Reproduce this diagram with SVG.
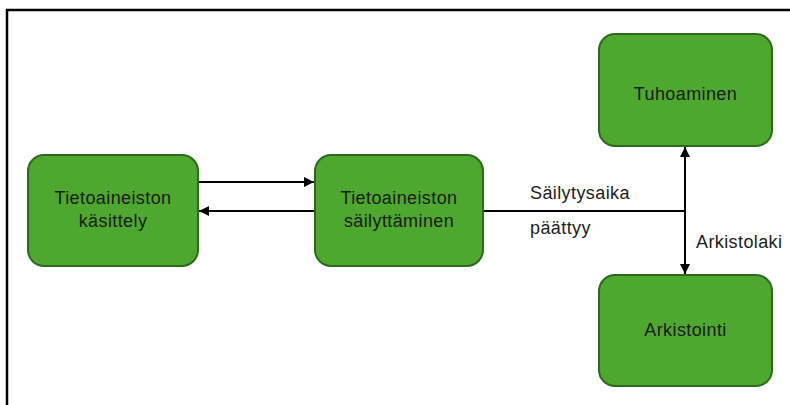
<svg xmlns="http://www.w3.org/2000/svg" width="790" height="405" viewBox="0 0 790 405">
<style>
.node rect{fill:#4ea72e;stroke:#2d6a1d;stroke-width:2}
.node text,.lbl{font-family:"Liberation Sans",Arial,sans-serif;font-size:18px;fill:#1c1c1c;letter-spacing:0.4px}
.node text{text-anchor:middle}
.conn{stroke:#000;stroke-width:2;fill:none}
</style>
<defs>
<marker id="ah" viewBox="0 0 10 10" refX="10" refY="5" markerWidth="5" markerHeight="5" orient="auto-start-reverse" markerUnits="strokeWidth">
<path d="M0,0 L10,5 L0,10 z" fill="#000"/>
</marker>
</defs>
<rect width="790" height="405" fill="#fff"/>
<path d="M7,405 L7,10 L790,10" fill="none" stroke="#000" stroke-width="2.5"/>
<g id="connectors">
<line class="conn" x1="199" y1="182" x2="314" y2="182" marker-end="url(#ah)"/>
<line class="conn" x1="315" y1="211" x2="199" y2="211" marker-end="url(#ah)"/>
<line class="conn" x1="483" y1="211" x2="685" y2="211"/>
<line class="conn" x1="685" y1="147" x2="685" y2="274" marker-start="url(#ah)" marker-end="url(#ah)"/>
<text class="lbl" x="530" y="199">Säilytysaika</text>
<text class="lbl" x="530" y="234">päättyy</text>
<text class="lbl" x="696" y="248">Arkistolaki</text>
</g>
<g id="n1" class="node">
<rect x="28" y="155" width="170" height="111" rx="16"/>
<text x="113" y="204">Tietoaineiston</text>
<text x="113" y="227">käsittely</text>
</g>
<g id="n2" class="node">
<rect x="315" y="155" width="168" height="111" rx="16"/>
<text x="399" y="204">Tietoaineiston</text>
<text x="399" y="227">säilyttäminen</text>
</g>
<g id="n3" class="node">
<rect x="599" y="34" width="173" height="112" rx="16"/>
<text x="685.5" y="100">Tuhoaminen</text>
</g>
<g id="n4" class="node">
<rect x="599" y="275" width="173" height="111" rx="16"/>
<text x="685.5" y="336">Arkistointi</text>
</g>
</svg>
